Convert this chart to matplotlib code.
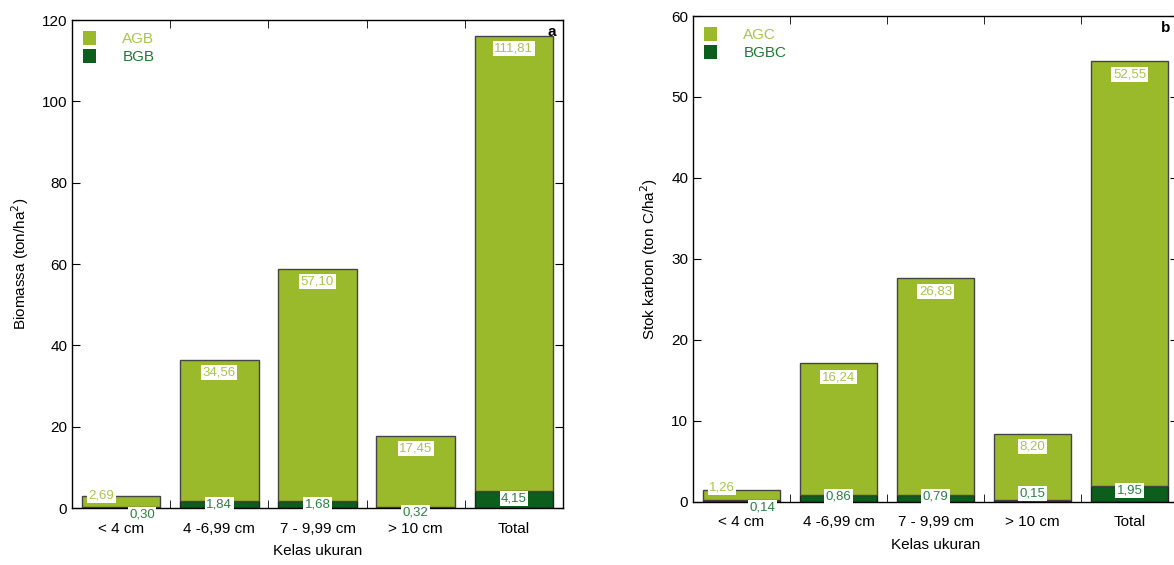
import matplotlib.pyplot as plt
import numpy as np

plt.rcParams['font.family'] = ['Liberation Sans', 'DejaVu Sans']

kelas = ['< 4 cm', '4 -6,99 cm', '7 - 9,99 cm', '> 10 cm', 'Total']
agb = [2.69, 34.56, 57.10, 17.45, 111.81]
bgb = [0.30, 1.84, 1.68, 0.32, 4.15]
agc = [1.26, 16.24, 26.83, 8.20, 52.55]
bgbc = [0.14, 0.86, 0.79, 0.15, 1.95]

c_top = '#9aba2c'
c_bot = '#0b5e1c'
t_top = '#a6c64a'
t_bot = '#2b8040'

fig = plt.figure(figsize=(11.74, 5.65), dpi=100)


def panel(ax, top, bot, names, ylim, yticks, ylabel, letter, top_off, bot_off):
    x = np.arange(len(kelas))
    b1 = ax.bar(x, bot, width=0.8, color=c_bot, edgecolor='#222222', linewidth=1)
    b2 = ax.bar(x, top, width=0.8, bottom=bot, color=c_top, edgecolor='#444444', linewidth=1)
    box = dict(facecolor='white', edgecolor='none', pad=1.0)
    for i in range(len(kelas)):
        dx, dy = top_off[i]
        ax.annotate(f'{top[i]:.2f}'.replace('.', ','), (x[i], top[i] + bot[i]),
                    xytext=(dx, dy), textcoords='offset points', ha='center', va='center',
                    fontsize=9.5, color=t_top, bbox=box)
        dx, dy = bot_off[i]
        ax.annotate(f'{bot[i]:.2f}'.replace('.', ','), (x[i], bot[i] / 2),
                    xytext=(dx, dy), textcoords='offset points', ha='center', va='center',
                    fontsize=9.5, color=t_bot, bbox=box)

    ax.set_xlim(-0.5, 4.5)
    ax.set_ylim(*ylim)
    ax.set_yticks(yticks)
    ax.set_xticks(x)
    ax.set_xticklabels(kelas)
    ax.set_xticks(x[:-1] + 0.5, minor=True)
    ax.tick_params(axis='x', which='major', length=0, pad=10, labelsize=11)
    ax.tick_params(axis='x', which='minor', direction='in', length=6, top=True, bottom=True)
    ax.tick_params(axis='y', direction='in', length=6, right=True, labelsize=11)
    for s in ax.spines.values():
        s.set_linewidth(1)
    ax.set_xlabel('Kelas ukuran', fontsize=11, labelpad=6)
    ax.set_ylabel(ylabel, fontsize=11, labelpad=8)
    ax.text(0.985, 0.99, letter, transform=ax.transAxes, ha='right', va='top',
            fontsize=11, fontweight='bold')
    h1 = plt.Rectangle((0, 0), 1, 1, facecolor=c_top, edgecolor='none')
    h2 = plt.Rectangle((0, 0), 1, 1, facecolor=c_bot, edgecolor='none')
    ax.legend([h1, h2], names, loc='upper left', frameon=False, fontsize=11,
              handlelength=0.9, handleheight=1.1, handletextpad=1.7, labelspacing=0.15,
              borderaxespad=0.3, labelcolor=[t_top, '#1e7b35'])


ax1 = fig.add_axes([72 / 1174, 57 / 565, 491 / 1174, 488 / 565])
panel(ax1, agb, bgb, ['AGB', 'BGB'], (0, 120), range(0, 121, 20),
      'Biomassa (ton/ha$^2$)', 'a',
      [(-14, 0), (0, -9), (0, -9), (0, -9), (0, -9)],
      [(15, -5), (0, 0), (0, 0), (0, -4), (0, 1)])

ax2 = fig.add_axes([693 / 1174, 63.5 / 565, 485 / 1174, 485.5 / 565])
panel(ax2, agc, bgbc, ['AGC', 'BGBC'], (0, 60), range(0, 61, 10),
      'Stok karbon (ton C/ha$^2$)', 'b',
      [(-14, 2), (0, -10), (0, -10), (0, -9), (0, -10)],
      [(15, -5), (0, 1), (0, 1), (0, 5), (0, 2)])

fig.savefig('out.png', dpi=100)
